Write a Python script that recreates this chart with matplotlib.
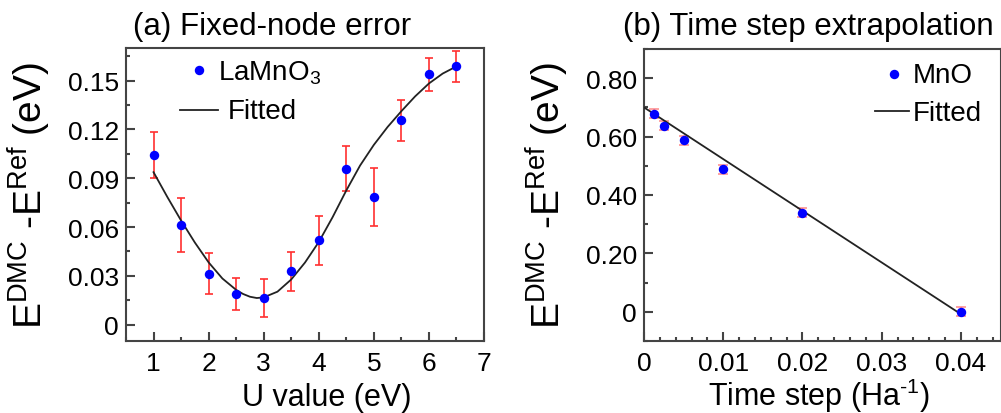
import matplotlib
matplotlib.use('Agg')
import matplotlib.pyplot as plt
from matplotlib.ticker import MultipleLocator, FixedLocator, FixedFormatter
from matplotlib.lines import Line2D

plt.rcParams['font.family'] = ['Liberation Sans', 'DejaVu Sans']
plt.rcParams['mathtext.fontset'] = 'custom'
plt.rcParams['mathtext.rm'] = 'Liberation Sans'
plt.rcParams['mathtext.it'] = 'Liberation Sans:italic'
plt.rcParams['mathtext.bf'] = 'Liberation Sans:bold'

# ---------------- data: panel (a) ----------------
u_values = [1.0, 1.5, 2.0, 2.5, 3.0, 3.5, 4.0, 4.5, 5.0, 5.5, 6.0, 6.5]
lamno3_energy = [0.1043, 0.0611, 0.0313, 0.0190, 0.0164, 0.0327, 0.0519,
                 0.0959, 0.0785, 0.1256, 0.1538, 0.1587]
lamno3_err = [0.0140, 0.0165, 0.0126, 0.0100, 0.0115, 0.0117, 0.0150,
              0.0138, 0.0180, 0.0126, 0.0101, 0.0097]
fit_u = [1.0, 1.25, 1.5, 1.75, 2.0, 2.25, 2.5, 2.625, 2.75, 2.875, 3.0,
         3.25, 3.5, 3.75, 4.0, 4.25, 4.5, 4.75, 5.0, 5.25, 5.5, 5.75, 6.0,
         6.25, 6.5]
fit_a = [0.0937, 0.0785, 0.0640, 0.0505, 0.0383, 0.0284, 0.0214, 0.0189,
         0.0172, 0.0164, 0.0168, 0.0203, 0.0278, 0.0382, 0.0508, 0.0660,
         0.0825, 0.0978, 0.1105, 0.1215, 0.1312, 0.1403, 0.1482, 0.1543,
         0.1587]
a_yticks = [0, 0.03, 0.06, 0.09, 0.12, 0.15]
a_yticklabels = ['0', '0.03', '0.06', '0.09', '0.12', '0.15']
a_xticks = [1, 2, 3, 4, 5, 6, 7]
a_xticklabels = ['1', '2', '3', '4', '5', '6', '7']

# ---------------- data: panel (b) ----------------
time_steps = [0.00125, 0.0025, 0.005, 0.01, 0.02, 0.04]
mno_energy = [0.678, 0.637, 0.587, 0.488, 0.339, 0.0]
mno_err = [0.015, 0.015, 0.015, 0.015, 0.015, 0.015]
fit_b_t = [0.0, 0.04]
fit_b_e = [0.700, -0.008]
b_yticks = [0, 0.2, 0.4, 0.6, 0.8]
b_yticklabels = ['0', '0.20', '0.40', '0.60', '0.80']
b_xticks = [0, 0.01, 0.02, 0.03, 0.04]
b_xticklabels = ['0', '0.01', '0.02', '0.03', '0.04']

W, H = 1001, 414
fig = plt.figure(figsize=(W / 100, H / 100), dpi=100)

spine_col = '#444444'
blue = '#0000ff'
ylabel_txt = r'E$^{\rm DMC}$ -E$^{\rm Ref}$ (eV)'


def style_axes(ax):
    for s in ax.spines.values():
        s.set_color(spine_col)
        s.set_linewidth(1.5)
    ax.tick_params(which='both', direction='in', top=False, right=False,
                   color=spine_col, width=1.5, labelsize=19)
    ax.tick_params(which='major', length=6.5)
    ax.tick_params(which='minor', length=3.2)
    ax.tick_params(axis='x', which='major', pad=7)
    ax.tick_params(axis='y', which='major', pad=5)


# ---------------- panel (a) ----------------
axa = fig.add_axes([126 / W, (H - 342) / H, (484 - 126) / W, (342 - 49) / H])
style_axes(axa)
axa.errorbar(u_values, lamno3_energy, yerr=lamno3_err, fmt='none',
             ecolor='#ff3030', elinewidth=1.2, capsize=3.2, capthick=1.2,
             zorder=2)
axa.plot(fit_u, fit_a, color='#222222', lw=1.3, zorder=3,
         solid_joinstyle='round')
axa.plot(u_values, lamno3_energy, 'o', color=blue, ms=6.8, mec='none',
         zorder=4)
axa.set_xlim(0.5, 7.0)
axa.set_ylim(-0.01, 0.17)
axa.xaxis.set_major_locator(FixedLocator(a_xticks))
axa.xaxis.set_major_formatter(FixedFormatter(a_xticklabels))
axa.xaxis.set_minor_locator(MultipleLocator(0.5))
axa.yaxis.set_major_locator(FixedLocator(a_yticks))
axa.yaxis.set_major_formatter(FixedFormatter(a_yticklabels))
axa.yaxis.set_minor_locator(MultipleLocator(0.015))
axa.set_ylabel(ylabel_txt, fontsize=28)
axa.yaxis.set_label_coords(-0.204, 0.5)

# legend (a)
axa.add_line(Line2D([0.204], [0.925], marker='o', color=blue, ms=6.8,
                    mec='none', ls='none', transform=axa.transAxes))
axa.text(0.257, 0.894, r'LaMnO$_3$', transform=axa.transAxes, fontsize=20,
         ha='left', va='baseline')
axa.add_line(Line2D([0.151, 0.257], [0.788, 0.788], color='#222222', lw=1.3,
                    transform=axa.transAxes))
axa.text(0.285, 0.760, 'Fitted', transform=axa.transAxes, fontsize=20,
         ha='left', va='baseline')

# ---------------- panel (b) ----------------
axb = fig.add_axes([644 / W, (H - 342) / H, (1000.5 - 644) / W, (342 - 50) / H])
style_axes(axb)
axb.errorbar(time_steps, mno_energy, yerr=mno_err, fmt='none',
             ecolor='#ff8080', elinewidth=1.3, capsize=3.5, capthick=1.3,
             alpha=0.8, zorder=2)
axb.plot(fit_b_t, fit_b_e, color='#222222', lw=1.3, zorder=3)
axb.plot(time_steps, mno_energy, 'o', color=blue, ms=6.8, mec='none',
         zorder=4)
axb.set_xlim(0.0, 0.045)
axb.set_ylim(-0.1, 0.9)
axb.xaxis.set_major_locator(FixedLocator(b_xticks))
axb.xaxis.set_major_formatter(FixedFormatter(b_xticklabels))
axb.xaxis.set_minor_locator(MultipleLocator(0.002))
axb.yaxis.set_major_locator(FixedLocator(b_yticks))
axb.yaxis.set_major_formatter(FixedFormatter(b_yticklabels))
axb.yaxis.set_minor_locator(MultipleLocator(0.1))
axb.set_ylabel(ylabel_txt, fontsize=28)
axb.yaxis.set_label_coords(-0.205, 0.5)

# legend (b)
axb.add_line(Line2D([0.702], [0.914], marker='o', color=blue, ms=6.8,
                    mec='none', ls='none', transform=axb.transAxes))
axb.text(0.753, 0.886, 'MnO', transform=axb.transAxes, fontsize=20,
         ha='left', va='baseline')
axb.add_line(Line2D([0.649, 0.742], [0.788, 0.788], color='#222222', lw=1.3,
                    transform=axb.transAxes))
axb.text(0.753, 0.758, 'Fitted', transform=axb.transAxes, fontsize=20,
         ha='left', va='baseline')

# titles and x labels
fig.text(133 / W, (H - 35) / H, '(a) Fixed-node error', fontsize=22.5,
         ha='left', va='baseline')
fig.text(623 / W, (H - 35) / H, '(b) Time step extrapolation', fontsize=22.5,
         ha='left', va='baseline')
fig.text(327 / W, (H - 406) / H, 'U value (eV)', fontsize=22,
         ha='center', va='baseline')
fig.text(819 / W, (H - 406) / H, r'Time step (Ha$^{\text{-1}}$)', fontsize=22,
         ha='center', va='baseline')

fig.savefig('out.png', dpi=100)
